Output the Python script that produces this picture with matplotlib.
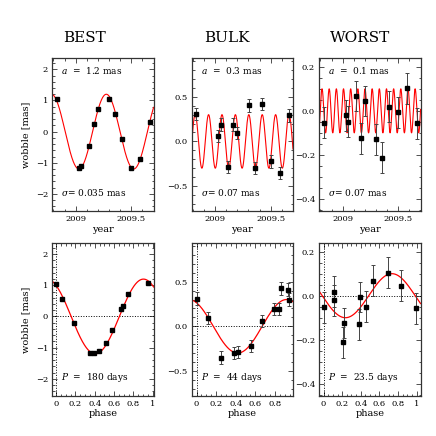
import numpy as np
import matplotlib
matplotlib.use('Agg')
import matplotlib.pyplot as plt
from matplotlib.ticker import MultipleLocator

plt.rcParams['font.family'] = ['DejaVu Serif']
plt.rcParams['mathtext.fontset'] = 'dejavuserif'

# observation epochs (year), shared by all three stars
t_obs = [2008.832, 2009.027, 2009.051, 2009.118, 2009.165, 2009.201,
         2009.303, 2009.355, 2009.418, 2009.501, 2009.582, 2009.666]

# wobble vs time [mas]
best_y = [1.04, -1.17, -1.11, -0.45, 0.24, 0.73, 1.06, 0.55, -0.23, -1.17, -0.87, 0.32]
bulk_y = [0.307, 0.06, 0.187, -0.288, 0.187, 0.094, 0.404, -0.30, 0.42, -0.225, -0.356, 0.292]
worst_y = [-0.054, -0.021, -0.050, 0.067, -0.124, 0.045, -0.13, -0.213, 0.018, -0.006, 0.103, -0.056]

# folded data
best_phase = [0.0, 0.065, 0.186, 0.352, 0.397, 0.443, 0.52, 0.581, 0.67, 0.69, 0.749, 0.95]
best_phase_y = [1.045, 0.56, -0.225, -1.165, -1.165, -1.095, -0.865, -0.43, 0.245, 0.335, 0.735, 1.065]
bulk_phase = [0.0, 0.112, 0.245, 0.381, 0.419, 0.552, 0.664, 0.79, 0.844, 0.865, 0.935, 0.945]
bulk_phase_y = [0.31, 0.094, -0.35, -0.297, -0.286, -0.222, 0.06, 0.192, 0.192, 0.425, 0.41, 0.30]
worst_phase = [0.0, 0.107, 0.107, 0.204, 0.225, 0.382, 0.393, 0.457, 0.536, 0.696, 0.829, 0.993]
worst_phase_y = [-0.052, 0.018, -0.020, -0.212, -0.124, -0.130, -0.006, -0.050, 0.069, 0.105, 0.046, -0.058]

# model parameters
names = ['BEST', 'BULK', 'WORST']
amp = [1.2, 0.3, 0.1]          # mas
period_days = [180, 44, 23.5]
sigma = [0.035, 0.07, 0.07]
t_peak = [2009.275, 2009.303, 2008.879]
phase_peak = [0.905, 0.92, 0.735]

time_data = [best_y, bulk_y, worst_y]
phase_data = [(best_phase, best_phase_y), (bulk_phase, bulk_phase_y), (worst_phase, worst_phase_y)]
ylims = [(-2.55, 2.35), (-0.78, 0.93), (-0.455, 0.238)]
phase_xlims = [(-0.04, 1.01), (-0.05, 0.985), (-0.046, 1.043)]
ymajor = [1.0, 0.5, 0.2]
yminor = [0.2, 0.1, 0.05]
sigma_txt = ['0.035', '0.07', '0.07']
amp_txt = ['1.2', '0.3', '0.1']
per_txt = ['180', '44', '23.5']

fig = plt.figure(figsize=(4.36, 4.36), dpi=100)

lefts = [0.120, 0.4397, 0.7323]
w, h = 0.2323, 0.350
title_x = [85, 227, 360]


def style_axis(ax):
    ax.tick_params(which='both', direction='in', top=True, right=True,
                   labelsize=6, pad=3, width=0.6, color='#333333')
    ax.tick_params(which='major', length=3.5)
    ax.tick_params(which='minor', length=1.8)
    for sp in ax.spines.values():
        sp.set_linewidth(0.9)
        sp.set_color('#333333')


for i in range(3):
    P_yr = period_days[i] / 365.25

    # --- top row: wobble vs time ---
    ax = fig.add_axes([lefts[i], 0.516, w, h])
    tt = np.linspace(2008.79, 2009.70, 1500)
    ax.plot(tt, amp[i] * np.cos(2 * np.pi * (tt - t_peak[i]) / P_yr), color='red', lw=0.8)
    ax.errorbar(t_obs, time_data[i], yerr=sigma[i], fmt='s', color='black', ms=2.3,
                ecolor='#444444', elinewidth=0.7, capsize=1.6, capthick=0.7)
    ax.set_xlim(2008.79, 2009.70)
    ax.set_ylim(*ylims[i])
    ax.xaxis.set_major_locator(MultipleLocator(0.5))
    ax.xaxis.set_minor_locator(MultipleLocator(0.1))
    ax.yaxis.set_major_locator(MultipleLocator(ymajor[i]))
    ax.yaxis.set_minor_locator(MultipleLocator(yminor[i]))
    ax.xaxis.set_major_formatter(plt.FuncFormatter(lambda v, p: f'{v:g}'))
    style_axis(ax)
    ax.set_xlabel('year', fontsize=7, labelpad=1)
    if i == 0:
        ax.set_ylabel('wobble [mas]', fontsize=7, labelpad=4)
    ax.text(0.09, 0.92, f'$a$  =  {amp_txt[i]} mas', transform=ax.transAxes,
            fontsize=6.5, va='center', ha='left')
    ax.text(0.09, 0.12, f'$\\sigma$= {sigma_txt[i]} mas', transform=ax.transAxes,
            fontsize=6.5, va='center', ha='left')
    fig.text(title_x[i] / 436, 1 - 38 / 436, names[i], fontsize=11, ha='center', va='center')

    # --- bottom row: folded on the period ---
    ax = fig.add_axes([lefts[i], 0.092, w, h])
    ph = np.linspace(phase_xlims[i][0], phase_xlims[i][1], 500)
    ax.axhline(0, color='black', ls=':', lw=0.7)
    ax.axvline(0, color='black', ls=':', lw=0.7)
    ax.plot(ph, amp[i] * np.cos(2 * np.pi * (ph - phase_peak[i])), color='red', lw=0.9)
    px, py = phase_data[i]
    ax.errorbar(px, py, yerr=sigma[i], fmt='s', color='black', ms=2.3,
                ecolor='#444444', elinewidth=0.7, capsize=1.6, capthick=0.7)
    ax.set_xlim(*phase_xlims[i])
    ax.set_ylim(*ylims[i])
    ax.xaxis.set_major_locator(MultipleLocator(0.2))
    ax.xaxis.set_minor_locator(MultipleLocator(0.05))
    ax.yaxis.set_major_locator(MultipleLocator(ymajor[i]))
    ax.yaxis.set_minor_locator(MultipleLocator(yminor[i]))
    ax.xaxis.set_major_formatter(plt.FuncFormatter(lambda v, p: f'{v:g}'))
    style_axis(ax)
    ax.set_xlabel('phase', fontsize=7, labelpad=1)
    if i == 0:
        ax.set_ylabel('wobble [mas]', fontsize=7, labelpad=4)
    ax.text(0.09, 0.12, f'$P$  =  {per_txt[i]} days', transform=ax.transAxes,
            fontsize=6.5, va='center', ha='left')

plt.savefig('out.png', dpi=100)
